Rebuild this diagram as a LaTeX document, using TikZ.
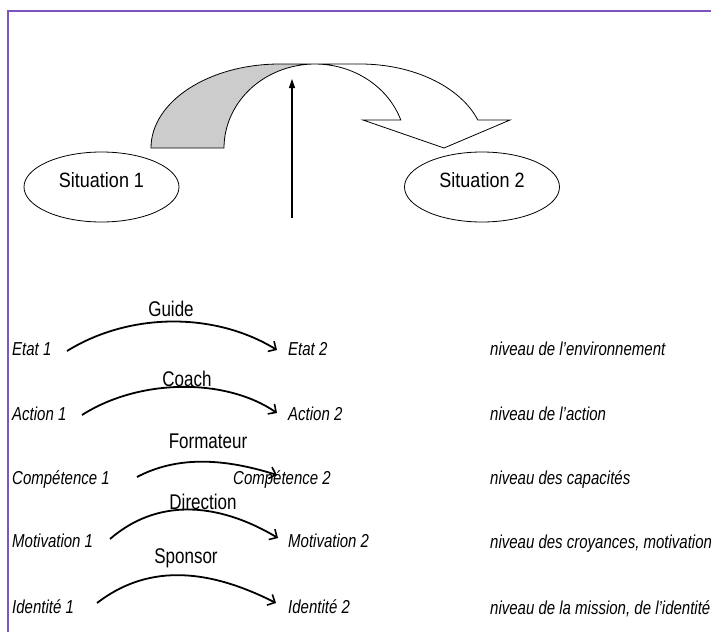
\documentclass[tikz,border=0pt]{standalone}
\usepackage{fontspec}
\setmainfont{Liberation Sans}
\usetikzlibrary{shapes.geometric, arrows.meta}
\definecolor{framepurple}{RGB}{128,84,190}
\definecolor{bandgray}{RGB}{204,204,204}
\newcommand{\tallt}[1]{\scalebox{1}[1.25]{#1}}
\begin{document}
\begin{tikzpicture}[x=1pt,y=1pt,
  frame/.style={draw=framepurple, line width=2pt},
  lbl/.style={font=\fontsize{17}{20}\selectfont, inner sep=0pt, anchor=base},
  lvl/.style={font=\fontsize{15}{18}\selectfont\itshape, inner sep=0pt, anchor=base west},
  sit/.style={ellipse, draw, line width=0.8pt, minimum width=155pt, minimum height=70pt, inner sep=0pt, font=\fontsize{18}{21}\selectfont},
  band/.style={line width=0.8pt},
  upar/.style={line width=1.1pt, -{Triangle[length=9pt,width=6pt]}},
  curv/.style={line width=1.8pt, -{Straight Barb[length=6pt,width=12pt,line width=1.6pt]}},
]
\useasboundingbox (0,0) rectangle (711,-632);
\draw[frame] (8,-632) -- (8,-11) -- (711,-11);

% big curved arrow
\fill[bandgray] (151,-148) arc[start angle=180,end angle=90,x radius=129pt,y radius=84pt]
  -- (315,-64) arc[start angle=90,end angle=180,x radius=91pt,y radius=84pt] -- cycle;
\draw[band] (151,-148) arc[start angle=180,end angle=90,x radius=129pt,y radius=84pt]
  -- (360,-64) arc[start angle=90,end angle=19.5,x radius=125pt,y radius=84pt]
  -- (510,-120) -- (444,-148) -- (363,-120) -- (400.8,-120)
  arc[start angle=19.5,end angle=180,x radius=91pt,y radius=84pt] -- cycle;

% situations
\node[sit] (s1) at (101.5,-187) {\raisebox{0pt}[0pt][0pt]{\scalebox{1}[1.15]{Situation 1}}};
\node[sit] (s2) at (482,-187) {\raisebox{0pt}[0pt][0pt]{\scalebox{1}[1.15]{Situation 2}}};

% vertical arrow
\coordinate (vb) at (292,-218);
\coordinate (vt) at (292,-79);
\draw[upar] (vb) -- (vt);

% left column
\node[lvl] (l1) at (12,-355) {\tallt{Etat 1}};
\node[lvl] (l2) at (12,-420) {\tallt{Action 1}};
\node[lvl] (l3) at (12,-484) {\tallt{Compétence 1}};
\node[lvl] (l4) at (12,-547) {\tallt{Motivation 1}};
\node[lvl] (l5) at (12,-613) {\tallt{Identité 1}};
% second column
\node[lvl] (r1) at (288,-355) {\tallt{Etat 2}};
\node[lvl] (r2) at (288,-420) {\tallt{Action 2}};
\node[lvl] (r3) at (233,-484) {\tallt{Compétence 2}};
\node[lvl] (r4) at (288,-547) {\tallt{Motivation 2}};
\node[lvl] (r5) at (288,-613) {\tallt{Identité 2}};
% levels
\node[lvl] (n1) at (490,-355) {\tallt{niveau de l’environnement}};
\node[lvl] (n2) at (490,-420) {\tallt{niveau de l’action}};
\node[lvl] (n3) at (490,-484) {\tallt{niveau des capacités}};
\node[lvl] (n4) at (490,-548) {\tallt{niveau des croyances, motivation}};
\node[lvl] (n5) at (490,-614) {\tallt{niveau de la mission, de l’identité}};
% labels
\node[lbl] (g1) at (171,-316) {\tallt{Guide}};
\node[lbl] (g2) at (187,-386) {\tallt{Coach}};
\node[lbl] (g3) at (208,-448) {\tallt{Formateur}};
\node[lbl] (g4) at (203,-509) {\tallt{Direction}};
\node[lbl] (g5) at (186,-563) {\tallt{Sponsor}};

% curved arrows
\coordinate (a1s) at (67,-351);  \coordinate (a1e) at (277,-350);
\coordinate (a2s) at (82,-415);  \coordinate (a2e) at (277,-413);
\coordinate (a3s) at (137,-477); \coordinate (a3e) at (277,-475);
\coordinate (a4s) at (110,-539); \coordinate (a4e) at (278,-538);
\coordinate (a5s) at (97,-603);  \coordinate (a5e) at (276,-603);
\draw[curv] (a1s) .. controls (130,-312) and (215,-312) .. (a1e);
\draw[curv] (a2s) .. controls (140,-378) and (226,-378) .. (a2e);
\draw[curv] (a3s) .. controls (175,-457) and (220,-457) .. (a3e);
\draw[curv] (a4s) .. controls (155,-500) and (214,-500) .. (a4e);
\draw[curv] (a5s) .. controls (145,-566) and (203,-566) .. (a5e);
\end{tikzpicture}
\end{document}
